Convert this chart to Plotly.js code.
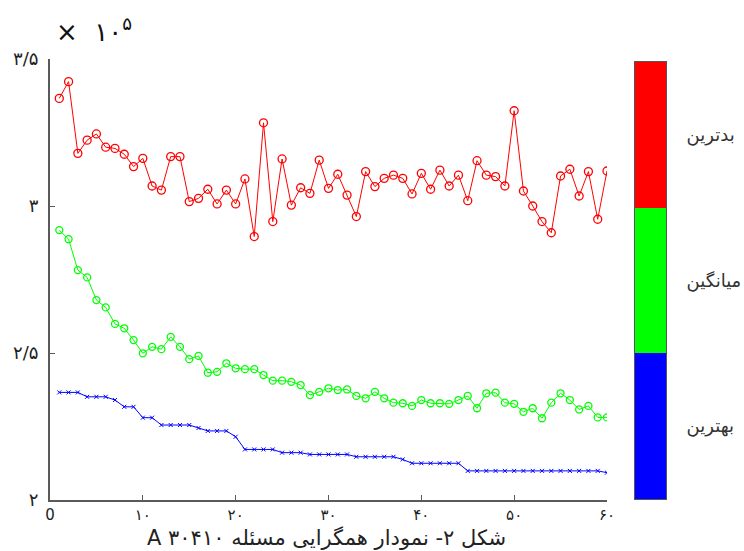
<!DOCTYPE html>
<html>
<head>
<meta charset="utf-8">
<script src="https://cdn.plot.ly/plotly-3.0.1.min.js"></script>
<style>html,body{margin:0;padding:0;background:#fff;}#chart{width:744px;height:551px;}</style>
</head>
<body>
<div id="chart"></div>
<script>
const generations = [1,2,3,4,5,6,7,8,9,10,11,12,13,14,15,16,17,18,19,20,21,22,23,24,25,26,27,28,29,30,31,32,33,34,35,36,37,38,39,40,41,42,43,44,45,46,47,48,49,50,51,52,53,54,55,56,57,58,59,60];
const worst = [3.366,3.423,3.179,3.224,3.245,3.2,3.196,3.176,3.134,3.162,3.068,3.054,3.168,3.168,3.015,3.026,3.057,3.007,3.054,3.007,3.092,2.896,3.283,2.947,3.16,3.003,3.062,3.043,3.156,3.06,3.108,3.037,2.964,3.117,3.066,3.094,3.105,3.094,3.041,3.111,3.057,3.122,3.068,3.105,3.018,3.154,3.105,3.1,3.068,3.324,3.051,3.0,2.947,2.909,3.102,3.125,3.034,3.117,2.955,3.119];
const average = [2.918,2.887,2.782,2.757,2.68,2.655,2.599,2.584,2.544,2.499,2.521,2.513,2.555,2.521,2.479,2.49,2.433,2.436,2.465,2.448,2.445,2.445,2.425,2.406,2.406,2.402,2.391,2.357,2.368,2.38,2.374,2.376,2.354,2.346,2.368,2.346,2.331,2.329,2.32,2.34,2.329,2.329,2.327,2.34,2.354,2.312,2.363,2.365,2.331,2.327,2.3,2.312,2.278,2.331,2.363,2.34,2.308,2.32,2.281,2.281];
const best = [2.366,2.366,2.366,2.351,2.351,2.351,2.34,2.317,2.317,2.28,2.28,2.255,2.255,2.255,2.255,2.245,2.235,2.235,2.235,2.215,2.172,2.172,2.172,2.172,2.161,2.161,2.161,2.155,2.155,2.155,2.155,2.155,2.147,2.147,2.147,2.147,2.147,2.138,2.125,2.125,2.125,2.125,2.125,2.125,2.099,2.099,2.099,2.099,2.099,2.099,2.099,2.099,2.099,2.099,2.099,2.099,2.099,2.099,2.099,2.093];

const xTickVals = [0,10,20,30,40,50,60];
const xTickText = ['0','۱۰','۲۰','۳۰','۴۰','۵۰','۶۰'];
const yTickVals = [2,2.5,3,3.5];
const yTickText = ['۲','۲/۵','۳','۳/۵'];
const legendNames = ['بهترین','میانگین','بدترین'];
const legendCodes = [[0],[1],[2]];
const titleText = 'A ' + 'شکل ۲- نمودار همگرایی مسئله ۳۰۴۱۰';
const exponentText = '×  ۱۰<sup>۵</sup>';

const axisGrey = '#5a5a5a';
const font = 'DejaVu Sans, sans-serif';

const traces = [
  {x: generations, y: worst, type:'scatter', mode:'lines+markers', xaxis:'x', yaxis:'y',
   line:{color:'#ff0000', width:1}, marker:{symbol:'circle-open', size:8, color:'#ff0000', line:{width:1.3}}, showlegend:false},
  {x: generations, y: average, type:'scatter', mode:'lines+markers', xaxis:'x', yaxis:'y',
   line:{color:'#00ff00', width:1}, marker:{symbol:'circle-open', size:7, color:'#00ff00', line:{width:1.3}}, showlegend:false},
  {x: generations, y: best, type:'scatter', mode:'lines+markers', xaxis:'x', yaxis:'y',
   line:{color:'#0000ff', width:1}, marker:{symbol:'x-thin-open', size:4, color:'#0000ff', line:{width:1, color:'#0000ff'}}, showlegend:false},
  {z: legendCodes, y: legendNames, x:[0], type:'heatmap', xaxis:'x2', yaxis:'y2', zmin:0, zmax:2, showscale:false,
   colorscale:[[0,'#0000ff'],[0.25,'#0000ff'],[0.25,'#00ff00'],[0.75,'#00ff00'],[0.75,'#ff0000'],[1,'#ff0000']], hoverinfo:'skip'}
];

const layout = {
  width:744, height:551,
  margin:{l:50, r:2, t:59, b:51},
  paper_bgcolor:'#fff', plot_bgcolor:'#fff',
  font:{family:font, color:'#222'},
  xaxis:{domain:[0,0.8049], range:[0,60], tickvals:xTickVals, ticktext:xTickText, ticks:'inside', ticklen:5, tickwidth:1, tickcolor:axisGrey,
    showline:true, linecolor:axisGrey, linewidth:2, showgrid:false, zeroline:false, tickfont:{size:15, color:'#222'}, ticklabelstandoff:0},
  yaxis:{domain:[0,1], range:[2,3.5], tickvals:yTickVals, ticktext:yTickText, ticks:'inside', ticklen:5, tickwidth:1, tickcolor:axisGrey,
    showline:true, linecolor:axisGrey, linewidth:2, showgrid:false, zeroline:false, tickfont:{size:18, color:'#222'}, ticklabelstandoff:6},
  xaxis2:{domain:[0.8454,0.8902], anchor:'y2', showticklabels:false, ticks:'', showgrid:false, zeroline:false,
    showline:true, mirror:true, linecolor:'#555', linewidth:1},
  yaxis2:{domain:[0.0023,0.9932], anchor:'x2', side:'right', ticks:'', showgrid:false, zeroline:false,
    showline:true, mirror:true, linecolor:'#555', linewidth:1, tickfont:{size:18, color:'#333'}, ticklabelstandoff:16},
  annotations:[
    {xref:'paper', yref:'paper', x:0.40, y:-0.0862, text:titleText, showarrow:false, xanchor:'center', yanchor:'middle',
     font:{size:21, color:'#222', family:font}},
    {xref:'paper', yref:'paper', x:0.063, y:1.065, text:exponentText, showarrow:false, xanchor:'center', yanchor:'middle',
     font:{size:26, color:'#111', family:font}}
  ]
};

Plotly.newPlot('chart', traces, layout, {displayModeBar:false, staticPlot:true});
</script>
</body>
</html>
